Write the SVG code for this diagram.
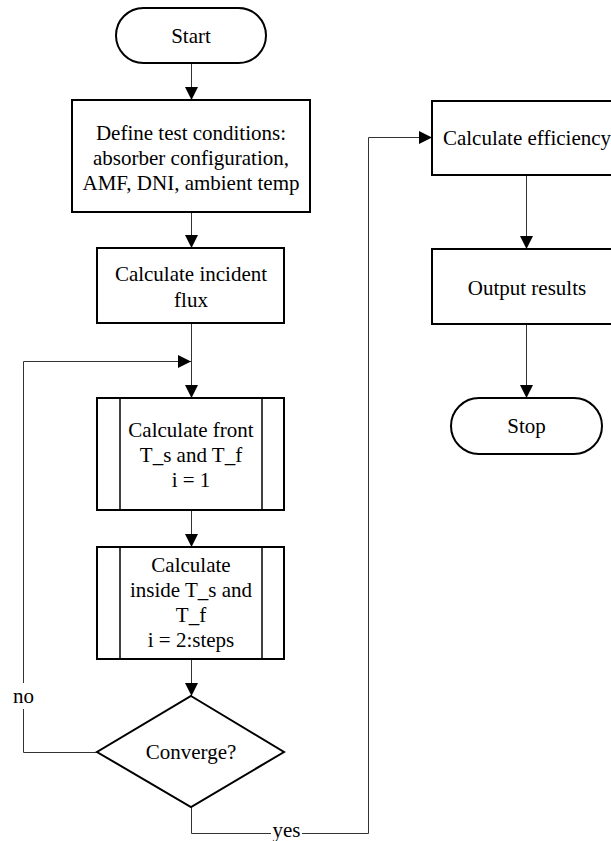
<svg xmlns="http://www.w3.org/2000/svg" width="611" height="841" viewBox="0 0 611 841">
<style>
.node{fill:#fff;stroke:#000;stroke-width:2}
.inner{fill:none;stroke:#000;stroke-width:1.5}
.conn{fill:none;stroke:#333;stroke-width:1}
text{font-size:21px;fill:#000;text-anchor:middle}
.lbl{fill:#fff;stroke:none}
</style>
<defs>
<marker id="arr" markerUnits="userSpaceOnUse" markerWidth="14" markerHeight="14" refX="13" refY="6.5" orient="auto">
<path d="M0,0 L13,6.5 L0,13 Z" fill="#000"/>
</marker>
</defs>
<rect width="611" height="841" fill="#fff"/>
<g font-family="'Liberation Serif', 'Times New Roman', Times, serif">
<g id="connectors">
<line class="conn" x1="191.5" y1="63" x2="191.5" y2="100" marker-end="url(#arr)"/>
<line class="conn" x1="191.5" y1="212" x2="191.5" y2="248" marker-end="url(#arr)"/>
<line class="conn" x1="191.5" y1="323" x2="191.5" y2="398" marker-end="url(#arr)"/>
<line class="conn" x1="191.5" y1="510" x2="191.5" y2="547" marker-end="url(#arr)"/>
<line class="conn" x1="191.5" y1="659" x2="191.5" y2="696" marker-end="url(#arr)"/>
<polyline class="conn" points="97,752.5 23.5,752.5 23.5,361.5 191,361.5" marker-end="url(#arr)"/>
<polyline class="conn" points="191.5,807 191.5,833.5 368.5,833.5 368.5,137.5 432,137.5" marker-end="url(#arr)"/>
<line class="conn" x1="526.5" y1="175" x2="526.5" y2="249" marker-end="url(#arr)"/>
<line class="conn" x1="526.5" y1="324" x2="526.5" y2="398" marker-end="url(#arr)"/>
<rect class="lbl" x="12" y="683" width="24" height="26"/>
<text x="23.5" y="703">no</text>
<rect class="lbl" x="271" y="822" width="31" height="19"/>
<text x="286.5" y="837">yes</text>
</g>
<g id="start">
<rect class="node" x="116" y="8" width="150" height="55" rx="27.5" ry="27.5"/>
<text x="191" y="43">Start</text>
</g>
<g id="define">
<rect class="node" x="72" y="100" width="238" height="112"/>
<text x="191" y="140">Define test conditions:</text>
<text x="191" y="165">absorber configuration,</text>
<text x="191" y="190">AMF, DNI, ambient temp</text>
</g>
<g id="incident">
<rect class="node" x="97" y="248" width="187" height="75"/>
<text x="191" y="281">Calculate incident</text>
<text x="191" y="307">flux</text>
</g>
<g id="front">
<rect class="node" x="97" y="398" width="187" height="112"/>
<line class="inner" x1="120" y1="398" x2="120" y2="510"/>
<line class="inner" x1="262" y1="398" x2="262" y2="510"/>
<text x="191" y="437">Calculate front</text>
<text x="191" y="462">T_s and T_f</text>
<text x="191" y="487">i = 1</text>
</g>
<g id="inside">
<rect class="node" x="97" y="547" width="187" height="112"/>
<line class="inner" x1="120" y1="547" x2="120" y2="659"/>
<line class="inner" x1="262" y1="547" x2="262" y2="659"/>
<text x="191" y="572">Calculate</text>
<text x="191" y="597">inside T_s and</text>
<text x="191" y="622">T_f</text>
<text x="191" y="647">i = 2:steps</text>
</g>
<g id="converge">
<polygon class="node" points="191,696 284,752 191,807 97,752"/>
<text x="191" y="759">Converge?</text>
</g>
<g id="efficiency">
<rect class="node" x="432" y="101" width="190" height="74"/>
<text x="527" y="145">Calculate efficiency</text>
</g>
<g id="output">
<rect class="node" x="432" y="249" width="190" height="75"/>
<text x="527" y="295">Output results</text>
</g>
<g id="stop">
<rect class="node" x="451" y="398" width="151" height="56" rx="28" ry="28"/>
<text x="526.5" y="433">Stop</text>
</g>
</g>
</svg>
